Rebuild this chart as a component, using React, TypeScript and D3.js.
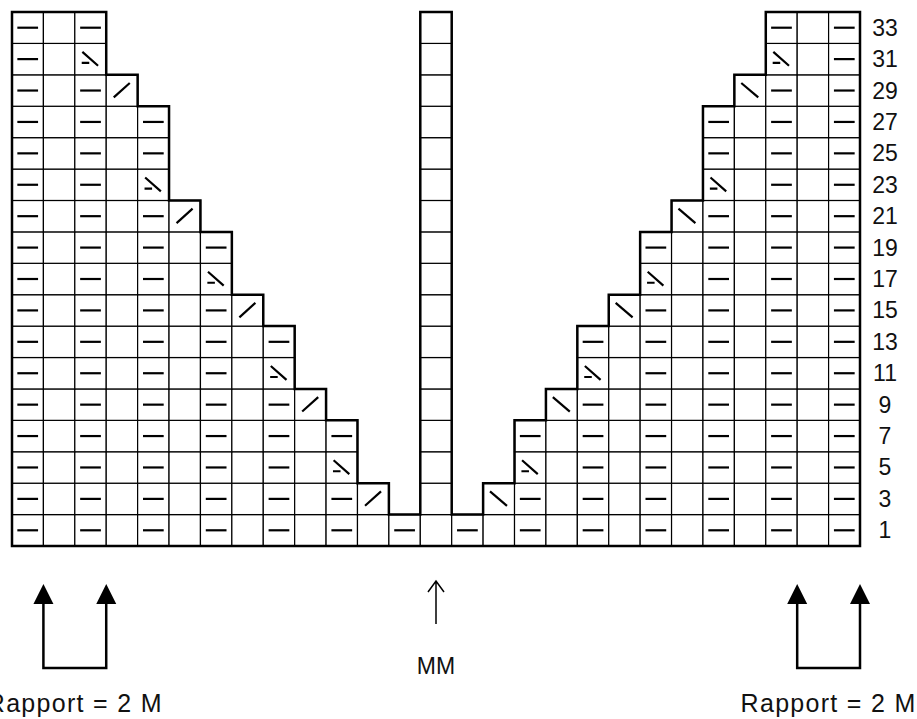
import React from "react";
import { scaleBand, range } from "d3";

// chart rows (bottom to top) and the shape of each row
const rowLabels = [1, 3, 5, 7, 9, 11, 13, 15, 17, 19, 21, 23, 25, 27, 29, 31, 33];
// last column index of the left wedge in each row (right wedge mirrors it)
const leftExtent = [12, 11, 10, 10, 9, 8, 8, 7, 6, 6, 5, 4, 4, 4, 3, 2, 2];
// decrease stitch at the wedge edge in each row
const decreases = ["", "k2tog", "ssk", "", "k2tog", "ssk", "", "k2tog", "ssk", "", "k2tog", "ssk", "", "", "k2tog", "ssk", ""];
const columnCount = 27;
const centerColumn = 13;
const repeatLabel = "Rapport = 2 M";
const centerLabel = "MM";
// grid lines the repeat arrows stand on
const leftRepeatLines = [1, 3];
const rightRepeatLines = [25, 27];

type Cell = { col: number; row: number; symbol: string };

const cells: Cell[] = [];
rowLabels.forEach((row, i) => {
  const L = leftExtent[i];
  const dec = decreases[i];
  range(columnCount).forEach((col) => {
    const inLeft = col <= L;
    const inRight = col >= columnCount - 1 - L;
    if (!inLeft && !inRight && col !== centerColumn) return;
    let symbol = "";
    if (col === centerColumn) symbol = "";
    else if (dec && inLeft && col === L && col < centerColumn) symbol = dec === "ssk" ? "ssk" : "slash";
    else if (dec && inRight && col === columnCount - 1 - L && col > centerColumn)
      symbol = dec === "ssk" ? "ssk" : "backslash";
    else if (col % 2 === 0) symbol = "dash";
    cells.push({ col, row, symbol });
  });
});

const has = new Set(cells.map((c) => `${c.col}:${c.row}`));

export default function App() {
  const x = scaleBand<number>().domain(range(columnCount)).range([12, 860]).paddingInner(0);
  const y = scaleBand<number>().domain([...rowLabels].reverse()).range([12, 546]).paddingInner(0);
  const s = x.bandwidth();
  const h = y.bandwidth();
  const gridX = (i: number) => 12 + i * s;
  const font = "'Liberation Sans', Arial, sans-serif";

  const thick: string[] = [];
  cells.forEach((c) => {
    const x0 = x(c.col)!;
    const y0 = y(c.row)!;
    const x1 = x0 + s;
    const y1 = y0 + h;
    if (!has.has(`${c.col}:${c.row + 2}`)) thick.push(`M${x0},${y0}H${x1}`);
    if (!has.has(`${c.col}:${c.row - 2}`)) thick.push(`M${x0},${y1}H${x1}`);
    if (!has.has(`${c.col - 1}:${c.row}`)) thick.push(`M${x0},${y0}V${y1}`);
    if (!has.has(`${c.col + 1}:${c.row}`)) thick.push(`M${x1},${y0}V${y1}`);
  });

  const symbolPath = (c: Cell) => {
    const x0 = x(c.col)!;
    const y0 = y(c.row)!;
    const px = (r: number) => x0 + r * s;
    const py = (r: number) => y0 + r * h;
    switch (c.symbol) {
      case "dash":
        return `M${px(0.17)},${py(0.5)}H${px(0.83)}`;
      case "slash":
        return `M${px(0.24)},${py(0.72)}L${px(0.75)},${py(0.26)}`;
      case "backslash":
        return `M${px(0.22)},${py(0.26)}L${px(0.76)},${py(0.72)}`;
      case "ssk":
        return `M${px(0.24)},${py(0.27)}L${px(0.74)},${py(0.71)}M${px(0.22)},${py(0.62)}H${px(0.46)}`;
      default:
        return "";
    }
  };

  const repeatArrow = (lines: number[], key: string) => {
    const xa = gridX(lines[0]);
    const xb = gridX(lines[1]);
    return (
      <g key={key}>
        <path d={`M${xa},603V668H${xb}V603`} fill="none" stroke="#000" strokeWidth={2.5} />
        <path d={`M${xa},584L${xa - 10},604H${xa + 10}Z`} fill="#000" />
        <path d={`M${xb},584L${xb - 10},604H${xb + 10}Z`} fill="#000" />
        <text
          x={(xa + xb) / 2}
          y={712}
          textAnchor="middle"
          fontFamily={font}
          fontSize={25}
          letterSpacing={1.3}
          fill="#111"
        >
          {repeatLabel}
        </text>
      </g>
    );
  };

  const cx = x(centerColumn)! + s / 2;

  return (
    <svg width={917} height={719} style={{ position: "absolute", left: 0, top: 0, background: "#fff" }}>
      <rect width={917} height={719} fill="#fff" />
      {cells.map((c) => (
        <rect key={`${c.col}-${c.row}`} x={x(c.col)} y={y(c.row)} width={s} height={h} fill="#fff" stroke="#000" strokeWidth={1.2} />
      ))}
      {cells
        .filter((c) => c.symbol)
        .map((c) => (
          <path key={`s${c.col}-${c.row}`} d={symbolPath(c)} stroke="#000" strokeWidth={2.2} fill="none" />
        ))}
      <path d={thick.join("")} stroke="#000" strokeWidth={2.5} fill="none" strokeLinecap="square" />
      {rowLabels.map((r) => (
        <text key={`l${r}`} x={885} y={y(r)! + h / 2 + 8} textAnchor="middle" fontFamily={font} fontSize={23} fill="#111">
          {r}
        </text>
      ))}
      {repeatArrow(leftRepeatLines, "ra")}
      {repeatArrow(rightRepeatLines, "rb")}
      <path d={`M${cx},624V581M${cx - 8},592L${cx},581L${cx + 8},592`} fill="none" stroke="#000" strokeWidth={1.5} />
      <text x={cx} y={674} textAnchor="middle" fontFamily={font} fontSize={23} fill="#111">
        {centerLabel}
      </text>
    </svg>
  );
}
